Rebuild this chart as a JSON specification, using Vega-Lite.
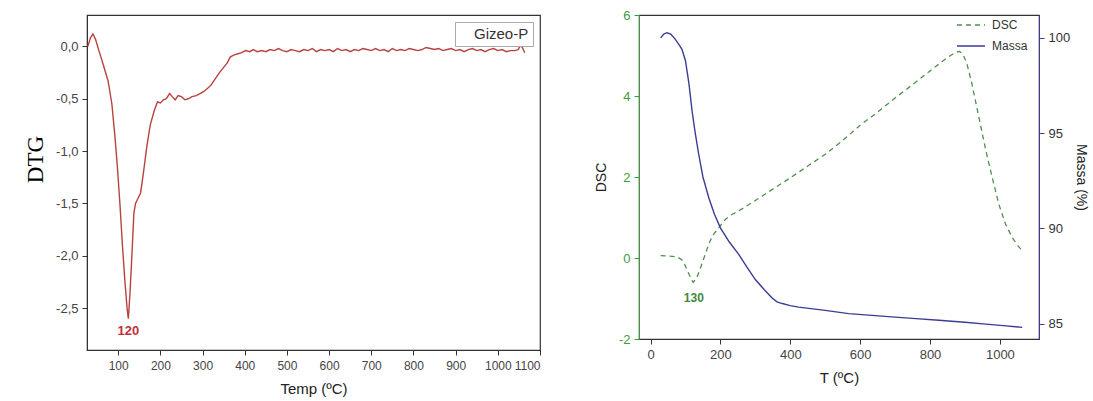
{
  "$schema": "https://vega.github.io/schema/vega-lite/v6.json",
  "background": "white",
  "padding": {"left": 23, "top": 8, "right": 2, "bottom": 5},
  "spacing": 51,
  "config": {
    "font": "Liberation Sans",
    "view": {"stroke": "#333", "strokeWidth": 1.2},
    "axis": {"grid": false, "labelFontSize": 13, "labelColor": "#444", "titleFontWeight": "normal", "titleColor": "#222", "tickSize": 5, "domainColor": "#333", "tickColor": "#333", "labelFont": "Liberation Sans", "labelOverlap": false}
  },
  "resolve": {"scale": {"color": "independent"}, "legend": {"color": "independent"}},
  "datasets": {
    "dtg": [
      {"T": 28, "v": 0.0}, {"T": 34, "v": 0.08}, {"T": 40, "v": 0.12}, {"T": 46, "v": 0.07}, {"T": 55, "v": -0.05},
      {"T": 65, "v": -0.18}, {"T": 76, "v": -0.33}, {"T": 85, "v": -0.55}, {"T": 92, "v": -0.85}, {"T": 98, "v": -1.15},
      {"T": 104, "v": -1.5}, {"T": 110, "v": -1.9}, {"T": 116, "v": -2.25}, {"T": 121, "v": -2.5}, {"T": 124, "v": -2.6},
      {"T": 128, "v": -2.35}, {"T": 133, "v": -1.95}, {"T": 137, "v": -1.6}, {"T": 141, "v": -1.5}, {"T": 147, "v": -1.45},
      {"T": 153, "v": -1.4}, {"T": 160, "v": -1.2}, {"T": 168, "v": -0.95}, {"T": 176, "v": -0.75}, {"T": 185, "v": -0.62},
      {"T": 193, "v": -0.53}, {"T": 200, "v": -0.54}, {"T": 207, "v": -0.51}, {"T": 214, "v": -0.5}, {"T": 222, "v": -0.45},
      {"T": 228, "v": -0.48}, {"T": 235, "v": -0.51}, {"T": 242, "v": -0.47}, {"T": 250, "v": -0.48}, {"T": 258, "v": -0.51},
      {"T": 266, "v": -0.5}, {"T": 275, "v": -0.48}, {"T": 285, "v": -0.47}, {"T": 294, "v": -0.45}, {"T": 303, "v": -0.43},
      {"T": 312, "v": -0.4}, {"T": 320, "v": -0.37}, {"T": 330, "v": -0.31}, {"T": 340, "v": -0.25}, {"T": 350, "v": -0.2},
      {"T": 358, "v": -0.16}, {"T": 366, "v": -0.1}, {"T": 375, "v": -0.08}, {"T": 384, "v": -0.07}, {"T": 393, "v": -0.06},
      {"T": 402, "v": -0.04}, {"T": 412, "v": -0.05}, {"T": 420, "v": -0.03}, {"T": 430, "v": -0.05}, {"T": 440, "v": -0.04},
      {"T": 450, "v": -0.05}, {"T": 460, "v": -0.03}, {"T": 470, "v": -0.04}, {"T": 480, "v": -0.02}, {"T": 490, "v": -0.04},
      {"T": 500, "v": -0.05}, {"T": 510, "v": -0.03}, {"T": 520, "v": -0.04}, {"T": 530, "v": -0.05}, {"T": 540, "v": -0.03},
      {"T": 550, "v": -0.04}, {"T": 560, "v": -0.02}, {"T": 570, "v": -0.05}, {"T": 580, "v": -0.03}, {"T": 590, "v": -0.04},
      {"T": 600, "v": -0.03}, {"T": 610, "v": -0.05}, {"T": 620, "v": -0.02}, {"T": 630, "v": -0.04}, {"T": 640, "v": -0.03},
      {"T": 650, "v": -0.05}, {"T": 660, "v": -0.03}, {"T": 670, "v": -0.04}, {"T": 680, "v": -0.02}, {"T": 690, "v": -0.03},
      {"T": 700, "v": -0.04}, {"T": 710, "v": -0.02}, {"T": 720, "v": -0.04}, {"T": 730, "v": -0.03}, {"T": 740, "v": -0.05},
      {"T": 750, "v": -0.02}, {"T": 760, "v": -0.04}, {"T": 770, "v": -0.03}, {"T": 780, "v": -0.04}, {"T": 790, "v": -0.02},
      {"T": 800, "v": -0.03}, {"T": 810, "v": -0.04}, {"T": 820, "v": -0.03}, {"T": 830, "v": -0.01}, {"T": 840, "v": -0.02},
      {"T": 850, "v": -0.03}, {"T": 860, "v": -0.02}, {"T": 870, "v": -0.04}, {"T": 880, "v": -0.03}, {"T": 890, "v": -0.02},
      {"T": 900, "v": -0.04}, {"T": 910, "v": -0.03}, {"T": 920, "v": -0.05}, {"T": 930, "v": -0.03}, {"T": 940, "v": -0.02},
      {"T": 950, "v": -0.04}, {"T": 960, "v": -0.03}, {"T": 970, "v": -0.05}, {"T": 980, "v": -0.03}, {"T": 990, "v": -0.02},
      {"T": 1000, "v": -0.04}, {"T": 1010, "v": -0.03}, {"T": 1020, "v": -0.05}, {"T": 1030, "v": -0.04}, {"T": 1040, "v": -0.04},
      {"T": 1048, "v": -0.03}, {"T": 1054, "v": 0.01}, {"T": 1058, "v": -0.01}, {"T": 1064, "v": -0.06}
    ],
    "dsc": [
      {"T": 29, "DSC": 0.06}, {"T": 50, "DSC": 0.05}, {"T": 76, "DSC": 0.03}, {"T": 90, "DSC": -0.05}, {"T": 100, "DSC": -0.2},
      {"T": 110, "DSC": -0.4}, {"T": 122, "DSC": -0.6}, {"T": 132, "DSC": -0.5}, {"T": 145, "DSC": -0.2}, {"T": 157, "DSC": 0.1},
      {"T": 167, "DSC": 0.35}, {"T": 180, "DSC": 0.58}, {"T": 200, "DSC": 0.8}, {"T": 215, "DSC": 0.96}, {"T": 230, "DSC": 1.06},
      {"T": 250, "DSC": 1.15}, {"T": 300, "DSC": 1.42}, {"T": 350, "DSC": 1.7}, {"T": 400, "DSC": 1.98}, {"T": 450, "DSC": 2.27},
      {"T": 500, "DSC": 2.56}, {"T": 550, "DSC": 2.9}, {"T": 600, "DSC": 3.28}, {"T": 650, "DSC": 3.6}, {"T": 700, "DSC": 3.95},
      {"T": 750, "DSC": 4.28}, {"T": 800, "DSC": 4.62}, {"T": 850, "DSC": 4.95}, {"T": 873, "DSC": 5.08}, {"T": 885, "DSC": 5.1},
      {"T": 895, "DSC": 5.02}, {"T": 906, "DSC": 4.79}, {"T": 920, "DSC": 4.3}, {"T": 940, "DSC": 3.47}, {"T": 960, "DSC": 2.65},
      {"T": 978, "DSC": 1.99}, {"T": 997, "DSC": 1.33}, {"T": 1016, "DSC": 0.84}, {"T": 1035, "DSC": 0.51}, {"T": 1050, "DSC": 0.32},
      {"T": 1064, "DSC": 0.18}
    ],
    "massa": [
      {"T": 29, "M": 100.0}, {"T": 38, "M": 100.2}, {"T": 47, "M": 100.27}, {"T": 58, "M": 100.2}, {"T": 70, "M": 99.95},
      {"T": 81, "M": 99.66}, {"T": 90, "M": 99.4}, {"T": 100, "M": 98.8}, {"T": 110, "M": 97.6}, {"T": 119, "M": 96.15},
      {"T": 128, "M": 95.0}, {"T": 138, "M": 93.88}, {"T": 150, "M": 92.7}, {"T": 167, "M": 91.6}, {"T": 183, "M": 90.75},
      {"T": 200, "M": 90.03}, {"T": 225, "M": 89.3}, {"T": 253, "M": 88.63}, {"T": 275, "M": 88.0}, {"T": 300, "M": 87.32},
      {"T": 325, "M": 86.8}, {"T": 348, "M": 86.35}, {"T": 362, "M": 86.15}, {"T": 377, "M": 86.06}, {"T": 400, "M": 85.95},
      {"T": 424, "M": 85.87}, {"T": 500, "M": 85.7}, {"T": 567, "M": 85.53}, {"T": 634, "M": 85.44}, {"T": 700, "M": 85.35},
      {"T": 760, "M": 85.27}, {"T": 825, "M": 85.18}, {"T": 900, "M": 85.08}, {"T": 960, "M": 84.98}, {"T": 1010, "M": 84.9},
      {"T": 1064, "M": 84.81}
    ],
    "ann1": [{"T": 124, "v": -2.6, "label": "120"}],
    "ann2": [{"T": 124, "DSC": -0.6, "label": "130"}]
  },
  "hconcat": [
    {
      "width": 453,
      "height": 335,
      "layer": [
        {
          "data": {"name": "dtg"},
          "mark": {"type": "line", "color": "#b8423f", "strokeWidth": 1.4},
          "encoding": {
            "x": {"field": "T", "type": "quantitative", "scale": {"domain": [26, 1100], "nice": false, "zero": false},
              "axis": {"values": [100, 200, 300, 400, 500, 600, 700, 800, 900, 1000, 1100], "format": "d", "labelFontSize": 12, "title": "Temp (ºC)", "titleFontSize": 15, "titlePadding": 10, "labelPadding": 5}},
            "y": {"field": "v", "type": "quantitative", "scale": {"domain": [-2.9, 0.3], "nice": false, "zero": false},
              "axis": {"values": [-2.5, -2, -1.5, -1, -0.5, 0], "labelExpr": "replace(replace(format(datum.value, '.1f'), '.', ','), '−', '-')", "title": "DTG", "titleFont": "Liberation Serif", "titleFontSize": 23, "titleColor": "#000", "titleX": -40, "titleY": 144, "labelPadding": 4}},
            "color": {"datum": "Gizeo-P", "scale": {"range": ["#b8423f"]},
              "legend": {"title": null, "orient": "top-right", "offset": 7, "symbolSize": 0, "symbolOpacity": 0, "symbolStrokeWidth": 0, "labelOffset": 0, "labelFontSize": 15, "labelColor": "#333", "strokeColor": "#aaa", "padding": 4, "fillColor": "white"}}
          }
        },
        {
          "data": {"name": "ann1"},
          "mark": {"type": "text", "color": "#c0303a", "fontWeight": "bold", "fontSize": 13, "dy": 12},
          "encoding": {
            "x": {"field": "T", "type": "quantitative"},
            "y": {"field": "v", "type": "quantitative"},
            "text": {"field": "label"}
          }
        }
      ]
    },
    {
      "width": 400,
      "height": 324,
      "layer": [
        {
          "layer": [
            {
              "data": {"name": "dsc"},
              "mark": {"type": "line", "color": "#4f8f4f", "strokeWidth": 1.3, "strokeDash": [5, 4]},
              "encoding": {
                "x": {"field": "T", "type": "quantitative", "scale": {"domain": [-33, 1112], "nice": false, "zero": false},
                  "axis": {"values": [0, 200, 400, 600, 800, 1000], "format": "d", "title": "T (ºC)", "titleFontSize": 15, "titlePadding": 9, "labelPadding": 4}},
                "y": {"field": "DSC", "type": "quantitative", "scale": {"domain": [-2, 6], "nice": false, "zero": false},
                  "axis": {"values": [-2, 0, 2, 4, 6], "labelExpr": "replace(format(datum.value, 'd'), '−', '-')", "title": "DSC", "titleFontSize": 14, "domainColor": "#3f9a3f", "tickColor": "#3f9a3f", "labelColor": "#3f9a3f", "labelPadding": 4, "titlePadding": 10}},
                "color": {"datum": "DSC", "scale": {"domain": ["DSC", "Massa"], "range": ["#4f8f4f", "#3c3c96"]},
                  "legend": {"title": null, "orient": "none", "legendX": 317, "legendY": -5, "symbolType": "stroke", "symbolSize": 784, "symbolStrokeWidth": 1.3, "labelFontSize": 12, "labelColor": "#333", "rowPadding": -8, "labelOffset": 6,
                    "encode": {"symbols": {"update": {"strokeDash": {"signal": "datum.value === 'DSC' ? [5, 4] : [1, 0]"}}}}}}
              }
            },
            {
              "data": {"name": "ann2"},
              "mark": {"type": "text", "color": "#3f8a3f", "fontWeight": "bold", "fontSize": 12, "dy": 16},
              "encoding": {
                "x": {"field": "T", "type": "quantitative"},
                "y": {"field": "DSC", "type": "quantitative"},
                "text": {"field": "label"}
              }
            }
          ]
        },
        {
          "data": {"name": "massa"},
          "mark": {"type": "line", "color": "#3c3c96", "strokeWidth": 1.4},
          "encoding": {
            "x": {"field": "T", "type": "quantitative"},
            "y": {"field": "M", "type": "quantitative", "scale": {"domain": [84.2, 101.2], "nice": false, "zero": false},
              "axis": {"orient": "right", "values": [85, 90, 95, 100], "title": "Massa (%)", "titleFontSize": 14, "domainColor": "#3c3c96", "tickColor": "#3c3c96", "labelColor": "#333", "labelPadding": 4, "titlePadding": 4}},
            "color": {"datum": "Massa"}
          }
        }
      ],
      "resolve": {"scale": {"y": "independent"}}
    }
  ]
}
